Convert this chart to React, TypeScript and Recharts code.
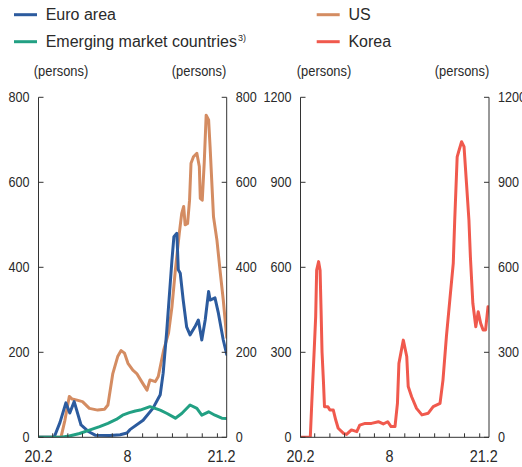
import React from 'react';
import { LineChart, Line, XAxis, YAxis } from 'recharts';

// x values are day offsets from 2020-02-01
const monthTicks = [0, 29, 60, 90, 121, 151, 182, 213, 243, 274, 304, 335, 366];
const monthLabels = ['20.2', '', '', '', '', '', '8', '', '', '', '', '', '21.2'];
const xDomainEnd = 385;

const leftYTicks = [0, 200, 400, 600, 800];
const rightYTicks = [0, 300, 600, 900, 1200];

const euroDays = [0, 32, 44, 56, 64, 73, 87, 103, 116, 146, 167, 181, 187, 214, 234, 249, 255, 262, 269, 273, 277, 283, 286, 290, 296, 303, 310, 320, 327, 334, 341, 348, 351, 361, 368, 378, 385];
const euroValues = [0, 0, 35, 81, 57, 84, 29, 13, 5, 4, 6, 10, 18, 40, 68, 100, 151, 245, 354, 417, 472, 480, 394, 386, 323, 260, 241, 260, 276, 229, 276, 343, 323, 328, 292, 229, 195];

const usDays = [0, 46, 54, 63, 69, 77, 90, 104, 121, 135, 142, 152, 162, 169, 176, 183, 193, 201, 211, 222, 228, 239, 245, 256, 266, 273, 280, 288, 293, 297, 300, 305, 309, 312, 317, 324, 329, 331, 335, 339, 343, 348, 351, 358, 365, 372, 378, 385];
const usValues = [0, 0, 40, 96, 90, 88, 84, 68, 64, 66, 76, 150, 190, 204, 198, 174, 158, 150, 131, 111, 135, 131, 143, 205, 245, 307, 394, 480, 527, 543, 500, 503, 558, 645, 660, 668, 637, 562, 558, 645, 758, 747, 684, 519, 464, 386, 323, 235];

const emDays = [0, 46, 63, 84, 104, 125, 142, 159, 172, 186, 198, 208, 228, 249, 263, 280, 293, 310, 324, 334, 348, 361, 375, 385];
const emValues = [0, 0, 3, 9, 17, 25, 33, 42, 52, 58, 62, 64, 72, 64, 56, 45, 56, 76, 68, 52, 60, 52, 45, 44];

const koreaDays = [0, 20, 23, 28, 31, 33, 37, 40, 42, 44, 47, 49, 56, 60, 67, 72, 77, 88, 94, 104, 115, 121, 132, 145, 159, 169, 178, 185, 193, 198, 201, 210, 217, 220, 227, 237, 248, 261, 271, 285, 291, 298, 305, 312, 315, 320, 324, 329, 334, 339, 344, 347, 352, 358, 363, 368, 373, 378, 383];
const koreaValues = [0, 0, 120, 308, 426, 590, 620, 590, 450, 300, 191, 108, 108, 96, 96, 61, 32, 14, 10, 26, 20, 43, 49, 49, 55, 47, 55, 38, 38, 120, 261, 343, 285, 179, 143, 102, 79, 85, 108, 120, 202, 355, 485, 614, 767, 990, 1014, 1043, 1026, 897, 767, 637, 473, 390, 443, 402, 379, 379, 461];

const seriesNames = ['Euro area', 'US', 'Emerging market countries', 'Korea'];
const seriesColors = ['#2c5b9e', '#d48c62', '#22a083', '#f0594d'];

const AXIS = '#333';
const TEXT = '#2a2a2a';
const FONT = '"Liberation Sans", Arial, Helvetica, sans-serif';

const toPoints = (days: number[], values: number[]) => days.map((d, i) => ({ day: d, value: values[i] }));

const euroData = toPoints(euroDays, euroValues);
const usData = toPoints(usDays, usValues);
const emData = toPoints(emDays, emValues);
const koreaData = toPoints(koreaDays, koreaValues);

function YTick(props: any) {
  const { x, y, payload, side } = props;
  const left = side === 'left';
  const dir = left ? 1 : -1;
  const tx = left ? x - 9 : x + 9;
  return (
    <g>
      <line x1={x} x2={x + dir * 5} y1={y} y2={y} stroke={AXIS} strokeWidth={1} />
      <text
        transform={`translate(${tx},${y}) scale(0.9,1)`}
        textAnchor={left ? 'end' : 'start'}
        dominantBaseline="central"
        fontSize={14}
        fill={TEXT}
        fontFamily={FONT}
      >
        {payload.value}
      </text>
    </g>
  );
}

function XTick(props: any) {
  const { x, y, payload } = props;
  const idx = monthTicks.indexOf(payload.value);
  const label = idx >= 0 ? monthLabels[idx] : '';
  const shift = idx === monthTicks.length - 1 ? 4 : 0;
  return (
    <g>
      <line x1={x} x2={x} y1={y} y2={y - 4} stroke={AXIS} strokeWidth={1} />
      {label ? (
        <text
          transform={`translate(${x + shift},${y + 24.4}) scale(0.9,1)`}
          textAnchor="middle"
          fontSize={16}
          fill={TEXT}
          fontFamily={FONT}
        >
          {label}
        </text>
      ) : null}
    </g>
  );
}

type Series = { name: string; color: string; data: { day: number; value: number }[] };

const AXIS_W = 30;
const AXIS_H = 29;

function Panel({ series, yTicks, yMax, plotLeft, plotRight }: { series: Series[]; yTicks: number[]; yMax: number; plotLeft: number; plotRight: number }) {
  return (
    <LineChart
      width={260}
      height={467}
      margin={{ top: 97.3, right: 260 - plotRight - AXIS_W, bottom: 467 - 437.3 - AXIS_H, left: plotLeft - AXIS_W }}
    >
      <XAxis
        type="number"
        dataKey="day"
        domain={[0, xDomainEnd]}
        ticks={monthTicks}
        interval={0}
        height={AXIS_H}
        tickSize={0}
        tickMargin={0}
        tickLine={false}
        axisLine={{ stroke: AXIS, strokeWidth: 1 }}
        tick={(p: any) => <XTick {...p} />}
        allowDataOverflow
      />
      <YAxis
        yAxisId="l"
        orientation="left"
        type="number"
        domain={[0, yMax]}
        ticks={yTicks}
        interval={0}
        width={AXIS_W}
        tickSize={0}
        tickMargin={0}
        tickLine={false}
        axisLine={{ stroke: AXIS, strokeWidth: 1 }}
        tick={(p: any) => <YTick {...p} side="left" />}
        allowDataOverflow
      />
      <YAxis
        yAxisId="r"
        orientation="right"
        type="number"
        domain={[0, yMax]}
        ticks={yTicks}
        interval={0}
        width={AXIS_W}
        tickSize={0}
        tickMargin={0}
        tickLine={false}
        axisLine={{ stroke: AXIS, strokeWidth: 1 }}
        tick={(p: any) => <YTick {...p} side="right" />}
        allowDataOverflow
      />
      {series.map((s) => (
        <Line
          key={s.name}
          yAxisId="l"
          data={s.data}
          dataKey="value"
          name={s.name}
          type="linear"
          stroke={s.color}
          strokeWidth={3}
          strokeLinejoin="round"
          strokeLinecap="round"
          dot={false}
          activeDot={false}
          isAnimationActive={false}
        />
      ))}
    </LineChart>
  );
}

export default function App() {
  const leftSeries: Series[] = [
    { name: seriesNames[1], color: seriesColors[1], data: usData },
    { name: seriesNames[0], color: seriesColors[0], data: euroData },
    { name: seriesNames[2], color: seriesColors[2], data: emData },
  ];
  const rightSeries: Series[] = [{ name: seriesNames[3], color: seriesColors[3], data: koreaData }];

  const legendItems = [
    { i: 0, x: 14, y: 14.7 },
    { i: 2, x: 14, y: 41.7 },
    { i: 1, x: 316.7, y: 14.7 },
    { i: 3, x: 316.7, y: 41.7 },
  ];
  const personsX = [61, 199, 324, 462];

  return (
    <div style={{ position: 'absolute', left: 0, top: 0, width: 522, height: 467, background: '#fff', overflow: 'hidden' }}>
      <div style={{ position: 'absolute', left: 0, top: 0 }}>
        <Panel series={leftSeries} yTicks={leftYTicks} yMax={800} plotLeft={38.5} plotRight={226.7} />
      </div>
      <div style={{ position: 'absolute', left: 262, top: 0 }}>
        <Panel series={rightSeries} yTicks={rightYTicks} yMax={1200} plotLeft={38.5} plotRight={227} />
      </div>
      <svg width={522} height={90} style={{ position: 'absolute', left: 0, top: 0, pointerEvents: 'none' }}>
        {legendItems.map((it) => (
          <g key={it.i}>
            <line x1={it.x} x2={it.x + 23} y1={it.y} y2={it.y} stroke={seriesColors[it.i]} strokeWidth={3} />
            <text x={it.x + 31.7} y={it.y + 5.6} fontSize={16} fill={TEXT} fontFamily={FONT}>
              {seriesNames[it.i]}
              {it.i === 2 ? (
                <tspan fontSize={9} dy={-6.5} dx={1}>3)</tspan>
              ) : null}
            </text>
          </g>
        ))}
        {personsX.map((px, k) => (
          <text
            key={k}
            transform={`translate(${px},76) scale(0.92,1)`}
            textAnchor="middle"
            fontSize={14}
            fill={TEXT}
            fontFamily={FONT}
          >
            (persons)
          </text>
        ))}
      </svg>
    </div>
  );
}
